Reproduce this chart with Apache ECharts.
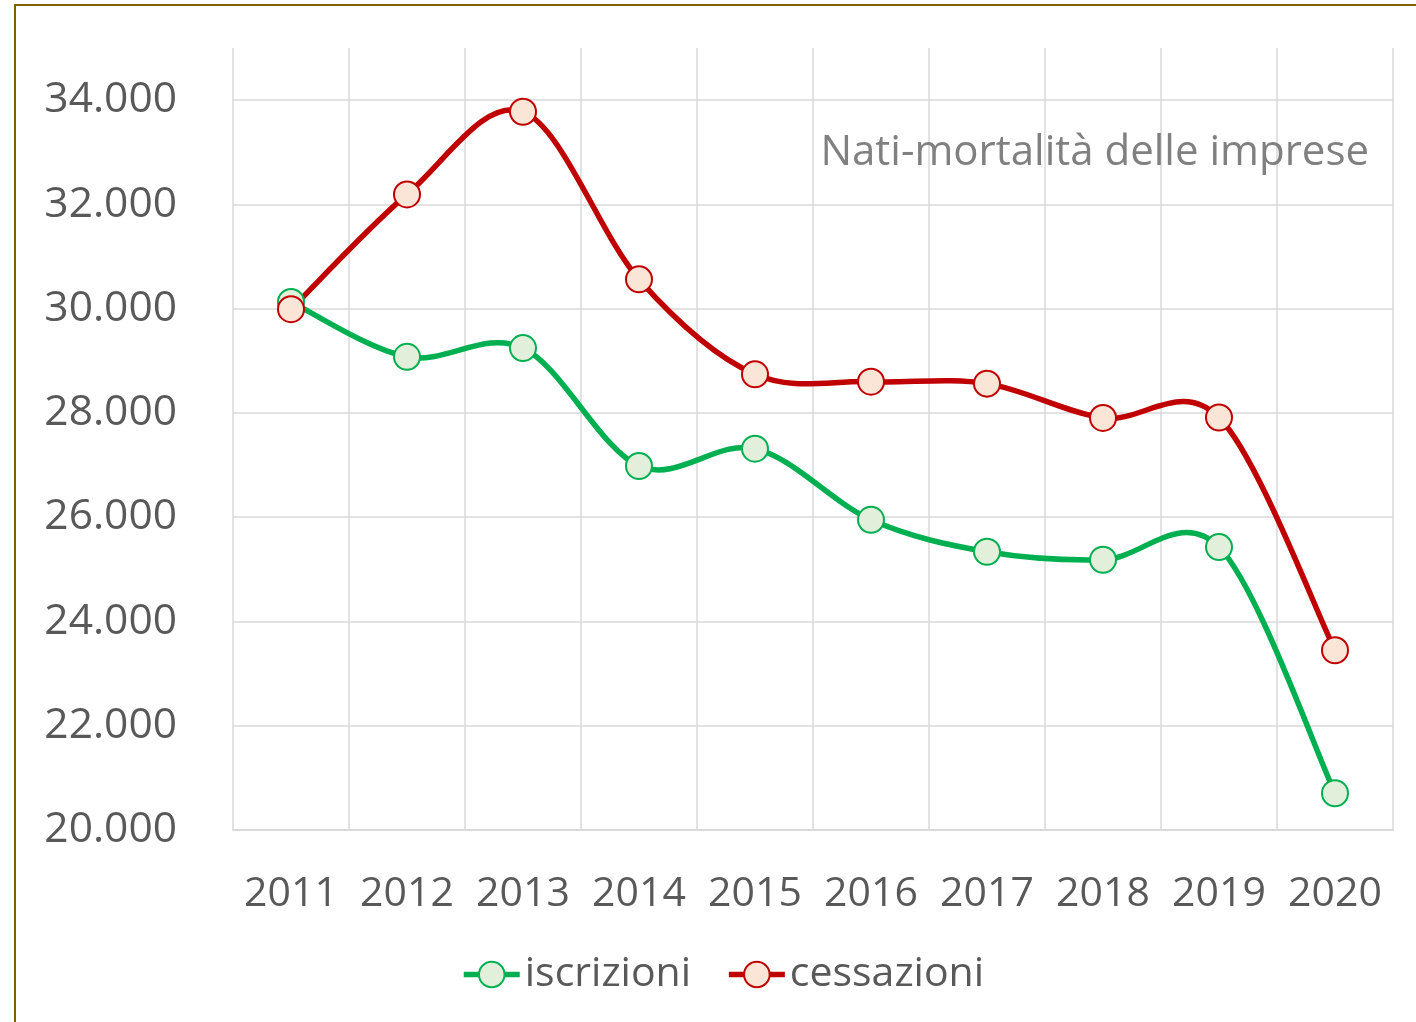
<!DOCTYPE html>
<html>
<head>
<meta charset="utf-8">
<script src="https://cdn.jsdelivr.net/npm/echarts@6/dist/echarts.min.js"></script>
<style>
html,body{margin:0;padding:0;background:#fff}
#chart{width:1416px;height:1022px}
</style>
</head>
<body>
<div id="chart"></div>
<script>
/* Nati-mortalita delle imprese: iscrizioni vs cessazioni, 2011-2020 */
var YEARS = ["2011","2012","2013","2014","2015","2016","2017","2018","2019","2020"];
var ISCRIZIONI = [30130, 29077, 29245, 26982, 27315, 25949, 25337, 25184, 25426, 20705];
var CESSAZIONI = [29990, 32192, 33777, 30562, 28740, 28600, 28562, 27904, 27912, 23448];
var Y_MIN = 20000, Y_MAX = 35000, Y_STEP = 2000;
var TITLE = "Nati-mortalità delle imprese";

var C = {
  green:"#00B050", greenFill:"#E2EFDA",
  red:"#C00000", redFill:"#FBE5D6",
  grid:"#D9D9D9", axis:"#595959", title:"#808080", frame:"#7F6000"
};
var FONT = "'Open Sans', 'Noto Sans', sans-serif";

function fmtThousands(v){
  return String(v).replace(/\B(?=(\d{3})+(?!\d))/g, ".");
}

/* Excel-like smoothed curve: Catmull-Rom segments through the data points */
function curveSeries(name, vals, color){
  return {
    type:"custom", name:name, z:2, silent:true,
    data: vals.map(function(v,i){ return [i, v]; }),
    encode:{x:0, y:1},
    renderItem:function(params, api){
      var i = params.dataIndex, n = vals.length;
      if(i >= n-1) return null;
      var p0 = api.coord([Math.max(i-1,0), vals[Math.max(i-1,0)]]);
      var p1 = api.coord([i, vals[i]]);
      var p2 = api.coord([i+1, vals[i+1]]);
      var p3 = api.coord([Math.min(i+2,n-1), vals[Math.min(i+2,n-1)]]);
      var c1x = p1[0] + (p2[0]-p0[0])/6, c1y = p1[1] + (p2[1]-p0[1])/6;
      var c2x = p2[0] - (p3[0]-p1[0])/6, c2y = p2[1] - (p3[1]-p1[1])/6;
      return {
        type:"path",
        shape:{ pathData:"M"+p1[0]+" "+p1[1]+" C"+c1x+" "+c1y+" "+c2x+" "+c2y+" "+p2[0]+" "+p2[1] },
        style:{ fill:null, stroke:color, lineWidth:5.5, lineCap:"round" }
      };
    }
  };
}

function markerSeries(name, vals, color, fill){
  return {
    type:"line", name:name, z:3, data:vals,
    symbol:"circle", symbolSize:26, showSymbol:true,
    lineStyle:{ width:0, opacity:0 },
    itemStyle:{ color:fill, borderColor:color, borderWidth:2 },
    emphasis:{ disabled:true }
  };
}

var ch = echarts.init(document.getElementById("chart"), null, {renderer:"canvas"});
ch.setOption({
  animation:false,
  backgroundColor:"#fff",
  textStyle:{ fontFamily:FONT },
  graphic:[{
    type:"rect", z:-1, silent:true,
    shape:{ x:15, y:5, width:1500, height:1100 },
    style:{ fill:null, stroke:C.frame, lineWidth:2 }
  }],
  title:{
    text:TITLE, right:42, top:127,
    textStyle:{ color:C.title, fontSize:42, fontWeight:"normal", fontFamily:FONT }
  },
  grid:{ left:233, right:23, top:48, bottom:192, containLabel:false },
  xAxis:{
    type:"category", data:YEARS, boundaryGap:true,
    axisLine:{ lineStyle:{ color:C.grid, width:2 } },
    axisTick:{ show:false, interval:0 },
    axisLabel:{ color:C.axis, fontSize:41, margin:44, interval:0, fontFamily:FONT },
    splitLine:{ show:true, interval:0, lineStyle:{ color:C.grid, width:1.5 } }
  },
  yAxis:{
    type:"value", min:Y_MIN, max:Y_MAX, interval:Y_STEP,
    axisLine:{ show:false }, axisTick:{ show:false },
    axisLabel:{ color:C.axis, fontSize:42.5, margin:56, showMaxLabel:false, fontFamily:FONT,
      formatter:function(v){ return fmtThousands(v); } },
    splitLine:{ show:true, showMaxLine:false, lineStyle:{ color:C.grid, width:1.5 } }
  },
  legend:{
    bottom:22, left:456, itemWidth:56, itemHeight:32, itemGap:35,
    textStyle:{ color:C.axis, fontSize:41, fontFamily:FONT },
    data:[
      { name:"iscrizioni", lineStyle:{ color:C.green, width:5.5, opacity:1 } },
      { name:"cessazioni", lineStyle:{ color:C.red, width:5.5, opacity:1 } }
    ]
  },
  series:[
    curveSeries("iscrizioni-curve", ISCRIZIONI, C.green),
    curveSeries("cessazioni-curve", CESSAZIONI, C.red),
    markerSeries("iscrizioni", ISCRIZIONI, C.green, C.greenFill),
    markerSeries("cessazioni", CESSAZIONI, C.red, C.redFill)
  ]
});
</script>
</body>
</html>
